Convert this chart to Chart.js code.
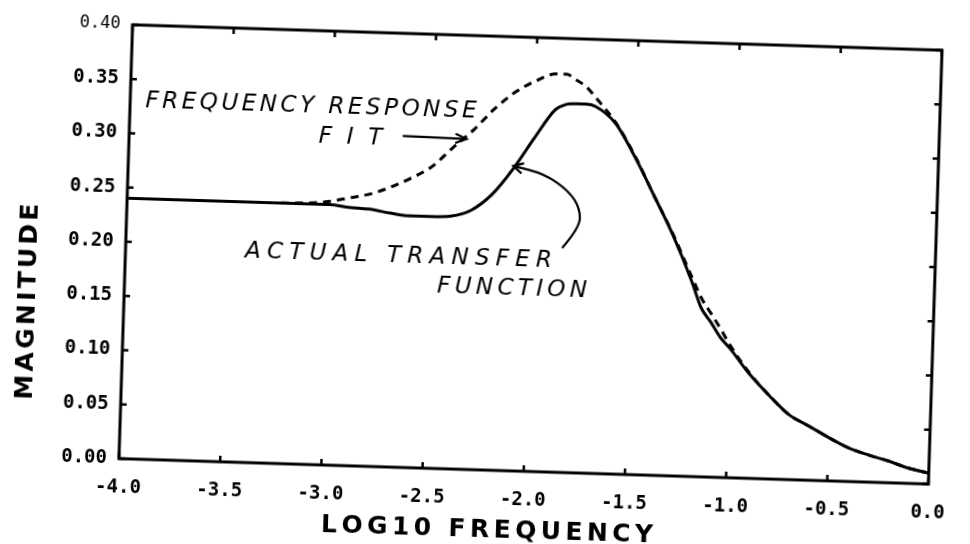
<!DOCTYPE html>
<html>
<head>
<meta charset="utf-8">
<title>Magnitude vs log10 frequency</title>
<script src="https://cdn.jsdelivr.net/npm/chart.js@4.4.1/dist/chart.umd.min.js"></script>
<style>
    html, body { margin: 0; padding: 0; background: #fff; overflow: hidden; }
    #wrap { position: relative; width: 970px; height: 544px; }
    /* the plotted sheet sits slightly skewed on the page */
    #magChart { position: absolute; left: 0; top: 0; transform: rotate(1.8deg); }
</style>
</head>
<body>
<div id="wrap"><canvas id="magChart" width="970" height="544"></canvas></div>
<script>
const logFreq = [-4.0, -3.5, -3.1, -3.0, -2.9, -2.8, -2.7, -2.6, -2.5, -2.4, -2.3, -2.2, -2.1, -2.0,
    -1.9, -1.85, -1.8, -1.75, -1.7, -1.6, -1.5, -1.4, -1.3, -1.2, -1.15, -1.1, -1.05, -1.0,
    -0.9, -0.8, -0.7, -0.6, -0.5, -0.4, -0.3, -0.2, -0.1, 0.0];

const actualMag = [0.240, 0.240, 0.240, 0.240, 0.238, 0.237, 0.234, 0.232, 0.232, 0.233, 0.239, 0.254, 0.278, 0.307,
    0.334, 0.339, 0.340, 0.340, 0.338, 0.323, 0.293, 0.258, 0.222, 0.180, 0.156, 0.143, 0.129, 0.119,
    0.096, 0.077, 0.060, 0.050, 0.040, 0.031, 0.025, 0.020, 0.014, 0.010];

const fitMag = [0.240, 0.240, 0.241, 0.243, 0.247, 0.251, 0.258, 0.267, 0.278, 0.296, 0.313, 0.333, 0.349, 0.360,
    0.367, 0.367, 0.362, 0.356, 0.346, 0.324, 0.294, 0.258, 0.223, 0.184, 0.165, 0.151, 0.137, 0.122,
    0.097, 0.077, 0.060, 0.050, 0.040, 0.031, 0.025, 0.020, 0.014, 0.010];

const xTickValues = [-4.0, -3.5, -3.0, -2.5, -2.0, -1.5, -1.0, -0.5, 0.0];
const yTickValues = [0.00, 0.05, 0.10, 0.15, 0.20, 0.25, 0.30, 0.35, 0.40];

const xTitle = 'LOG10 FREQUENCY';
const yTitle = 'MAGNITUDE';

// hand lettered notes, anchored in data units
const notes = [
    { text: 'FREQUENCY RESPONSE', x0: -3.925, x1: -2.289, y: 0.324 },
    { text: 'FIT', x0: -3.064, x1: -2.75, y: 0.2966 },
    { text: 'ACTUAL TRANSFER', x0: -3.41, x1: -1.894, y: 0.1887 },
    { text: 'FUNCTION', x0: -2.456, x1: -1.716, y: 0.1619 }
];
const fitArrow = [[-2.649, 0.3055], [-2.334, 0.3045]];
const actualArrow = [[-1.845, 0.2068], [-1.762, 0.2257], [-1.762, 0.2433], [-1.82, 0.2595], [-1.942, 0.2745], [-2.098, 0.281]];

const toPoints = function (ys) {
    return logFreq.map((x, i) => ({ x: x, y: ys[i] }));
};

// spread the letters of a word evenly between two pixel positions
const drawSpaced = function (ctx, text, left, right, baseline) {
    const chars = [...text];
    const widths = chars.map(ch => ctx.measureText(ch).width);
    const natural = widths.reduce((a, b) => a + b, 0);
    const gap = chars.length > 1 ? (right - left - natural) / (chars.length - 1) : 0;
    let x = left;
    chars.forEach((ch, i) => {
        ctx.fillText(ch, x, baseline);
        x += widths[i] + gap;
    });
};

const arrowHead = function (ctx, fromX, fromY, tipX, tipY, len, spread) {
    const ang = Math.atan2(tipY - fromY, tipX - fromX);
    ctx.beginPath();
    ctx.moveTo(tipX - len * Math.cos(ang - spread), tipY - len * Math.sin(ang - spread));
    ctx.lineTo(tipX, tipY);
    ctx.lineTo(tipX - len * Math.cos(ang + spread), tipY - len * Math.sin(ang + spread));
    ctx.stroke();
};

const framePlugin = {
    id: 'plotFrame',
    afterDatasetsDraw(chart) {
        const ctx = chart.ctx;
        const area = chart.chartArea;
        const xs = chart.scales.x;
        const ys = chart.scales.y;
        const tick = 6;

        ctx.save();
        ctx.strokeStyle = '#000';
        ctx.fillStyle = '#000';
        ctx.lineWidth = 3;
        ctx.strokeRect(area.left, area.top, area.right - area.left, area.bottom - area.top);

        // inward tick marks on all four sides
        ctx.lineWidth = 2.5;
        ctx.beginPath();
        xTickValues.forEach(v => {
            const px = xs.getPixelForValue(v);
            ctx.moveTo(px, area.bottom);
            ctx.lineTo(px, area.bottom - tick);
            ctx.moveTo(px, area.top);
            ctx.lineTo(px, area.top + tick);
        });
        yTickValues.forEach(v => {
            const py = ys.getPixelForValue(v);
            ctx.moveTo(area.left, py);
            ctx.lineTo(area.left + tick, py);
            ctx.moveTo(area.right, py);
            ctx.lineTo(area.right - tick, py);
        });
        ctx.stroke();

        // axis titles
        ctx.font = 'bold 25px "DejaVu Sans"';
        ctx.textBaseline = 'alphabetic';
        const midX = area.left + 0.457 * (area.right - area.left);
        drawSpaced(ctx, xTitle, midX - 166, midX + 166, area.bottom + 67);

        ctx.save();
        ctx.translate(area.left - 96, area.bottom - 0.355 * (area.bottom - area.top));
        ctx.rotate(-Math.PI / 2);
        ctx.font = 'bold 25px "DejaVu Sans"';
        ctx.textBaseline = 'middle';
        drawSpaced(ctx, yTitle, -98, 98, 0);
        ctx.restore();

        // notes
        ctx.font = 'italic 23px "DejaVu Sans"';
        ctx.textBaseline = 'alphabetic';
        notes.forEach(n => {
            drawSpaced(ctx, n.text, xs.getPixelForValue(n.x0), xs.getPixelForValue(n.x1), ys.getPixelForValue(n.y));
        });

        ctx.lineWidth = 2.2;
        const fa = fitArrow.map(p => [xs.getPixelForValue(p[0]), ys.getPixelForValue(p[1])]);
        ctx.beginPath();
        ctx.moveTo(fa[0][0], fa[0][1]);
        ctx.lineTo(fa[1][0], fa[1][1]);
        ctx.stroke();
        arrowHead(ctx, fa[0][0], fa[0][1], fa[1][0], fa[1][1], 12, 0.4);

        const ca = actualArrow.map(p => [xs.getPixelForValue(p[0]), ys.getPixelForValue(p[1])]);
        ctx.beginPath();
        ctx.moveTo(ca[0][0], ca[0][1]);
        for (let i = 1; i < ca.length - 1; i++) {
            const mx = (ca[i][0] + ca[i + 1][0]) / 2;
            const my = (ca[i][1] + ca[i + 1][1]) / 2;
            ctx.quadraticCurveTo(ca[i][0], ca[i][1], mx, my);
        }
        ctx.lineTo(ca[ca.length - 1][0], ca[ca.length - 1][1]);
        ctx.stroke();
        const last = ca[ca.length - 1];
        const prev = ca[ca.length - 2];
        arrowHead(ctx, prev[0], prev[1], last[0], last[1], 11, 0.5);

        ctx.restore();
    }
};

const ctx = document.getElementById('magChart').getContext('2d');

const chart = new Chart(ctx, {
    type: 'line',
    data: {
        datasets: [
            {
                label: 'Frequency response fit',
                data: toPoints(fitMag),
                borderColor: '#000',
                borderWidth: 3,
                borderDash: [8, 6],
                pointRadius: 0,
                fill: false,
                cubicInterpolationMode: 'monotone'
            },
            {
                label: 'Actual transfer function',
                data: toPoints(actualMag),
                borderColor: '#000',
                borderWidth: 3,
                pointRadius: 0,
                fill: false,
                cubicInterpolationMode: 'monotone'
            }
        ]
    },
    options: {
        responsive: false,
        animation: false,
        events: [],
        layout: {
            padding: { left: 10, top: 36, right: 19, bottom: 0 }
        },
        plugins: {
            legend: { display: false },
            tooltip: { enabled: false }
        },
        scales: {
            x: {
                type: 'linear',
                min: -4,
                max: 0,
                grid: { display: false, drawTicks: false },
                border: { display: false },
                afterBuildTicks: function (scale) {
                    scale.ticks = xTickValues.map(v => ({ value: v }));
                },
                afterFit: function (scale) {
                    scale.height = 74;
                },
                ticks: {
                    autoSkip: false,
                    maxRotation: 0,
                    padding: 18,
                    color: '#000',
                    font: { family: '"DejaVu Sans Mono"', size: 19, weight: 'bold' },
                    callback: function (value) {
                        return value.toFixed(1);
                    }
                }
            },
            y: {
                min: 0,
                max: 0.4,
                grid: { display: false, drawTicks: false },
                border: { display: false },
                afterBuildTicks: function (scale) {
                    scale.ticks = yTickValues.map(v => ({ value: v }));
                },
                afterFit: function (scale) {
                    scale.width = 115;
                },
                ticks: {
                    autoSkip: false,
                    padding: 12,
                    color: '#000',
                    font: function (c) {
                        const top = c.tick && c.tick.value === 0.4;
                        return { family: '"DejaVu Sans Mono"', size: top ? 17 : 19, weight: top ? 'normal' : 'bold' };
                    },
                    callback: function (value) {
                        return value.toFixed(2);
                    }
                }
            }
        }
    },
    plugins: [framePlugin]
});
</script>
</body>
</html>
